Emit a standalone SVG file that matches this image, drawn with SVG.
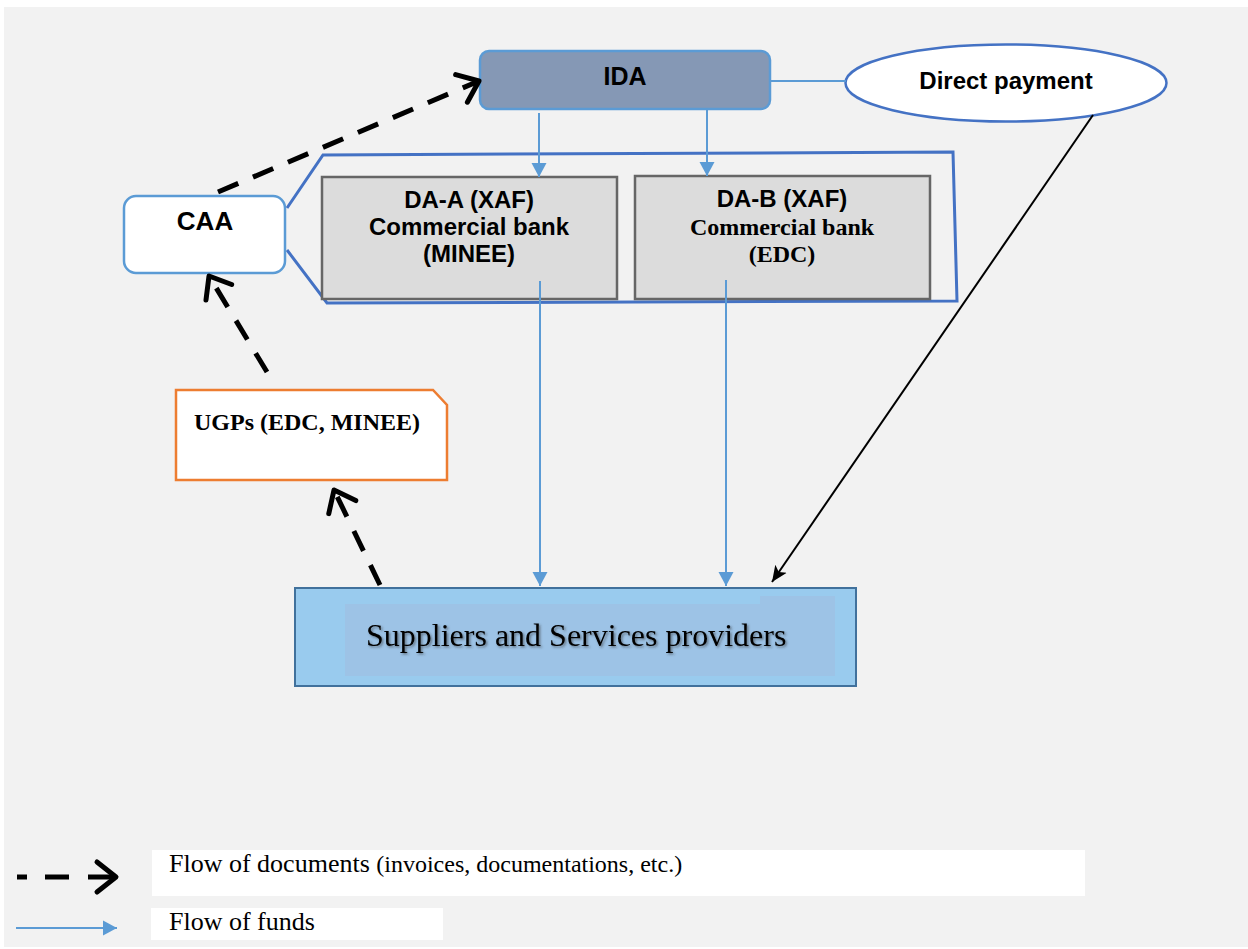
<svg xmlns="http://www.w3.org/2000/svg" width="1248" height="949" viewBox="0 0 1248 949">
<style>
.sans{font-family:"Liberation Sans",Arial,sans-serif;font-weight:bold;fill:#000}
.serif{font-family:"Liberation Serif","Times New Roman",serif;fill:#000}
.b{font-weight:bold}
.doc{fill:none;stroke:#000;stroke-width:5;stroke-dasharray:22 16}
.fund{fill:none;stroke:#5b9bd5;stroke-width:2}
.da{fill:#dcdcdc;stroke:#666;stroke-width:2.5}
</style>
<defs>
<marker id="chev" markerUnits="userSpaceOnUse" viewBox="-30 -20 40 40" markerWidth="40" markerHeight="40" refX="0" refY="0" orient="auto" overflow="visible">
<path d="M-19,-15 L0,0 L-19,15" fill="none" stroke="#000" stroke-width="5" stroke-linecap="round" stroke-linejoin="round"/>
</marker>
<marker id="blue" markerUnits="userSpaceOnUse" viewBox="-14 -8 14 16" markerWidth="14" markerHeight="16" refX="0" refY="0" orient="auto">
<path d="M-14,-7.5 L0,0 L-14,7.5 Z" fill="#5b9bd5"/>
</marker>
<marker id="black" markerUnits="userSpaceOnUse" viewBox="-16 -8 16 16" markerWidth="16" markerHeight="16" refX="0" refY="0" orient="auto">
<path d="M-16,-7 L0,0 L-16,7 L-12,0 Z" fill="#000"/>
</marker>
<filter id="shadow" x="-5%" y="-20%" width="110%" height="140%">
<feDropShadow dx="1.5" dy="1.5" stdDeviation="1" flood-color="#333" flood-opacity="0.55"/>
</filter>
</defs>

<rect x="4" y="7" width="1244" height="940" fill="#f2f2f2"/>

<g id="bracket">
<path d="M287,208 L323,155 L953,152 L957,301 L327,303 L287,250" fill="none" stroke="#4472c4" stroke-width="3"/>
</g>

<g id="ida">
<rect x="480" y="51" width="290" height="58" rx="9" fill="#8598b5" stroke="#5b9bd5" stroke-width="2.5"/>
<text class="sans" x="625" y="85" text-anchor="middle" font-size="25">IDA</text>
</g>

<g id="direct-payment">
<ellipse cx="1006" cy="83" rx="160.5" ry="38.5" fill="#fff" stroke="#4472c4" stroke-width="2.5"/>
<text class="sans" x="1006" y="89" text-anchor="middle" font-size="24">Direct payment</text>
</g>

<g id="caa">
<rect x="124" y="196" width="161" height="77" rx="12" fill="#fff" stroke="#5b9bd5" stroke-width="2.5"/>
<text class="sans" x="205" y="230" text-anchor="middle" font-size="26">CAA</text>
</g>

<g id="da-a">
<rect class="da" x="322" y="177" width="295" height="122"/>
<text class="sans" x="469" y="208" text-anchor="middle" font-size="24">DA-A (XAF)</text>
<text class="sans" x="469" y="235" text-anchor="middle" font-size="24">Commercial bank</text>
<text class="sans" x="469" y="262" text-anchor="middle" font-size="24">(MINEE)</text>
</g>

<g id="da-b">
<rect class="da" x="635" y="176" width="295" height="123"/>
<text class="sans" x="782" y="207" text-anchor="middle" font-size="24">DA-B (XAF)</text>
<text class="serif b" x="782" y="235" text-anchor="middle" font-size="24">Commercial bank</text>
<text class="serif b" x="782" y="262" text-anchor="middle" font-size="24">(EDC)</text>
</g>

<g id="ugps">
<path d="M176,390 L433,390 L447,405 L447,480 L176,480 Z" fill="#fff" stroke="#ed7d31" stroke-width="2.5"/>
<text class="serif b" x="194" y="430" font-size="24">UGPs (EDC, MINEE)</text>
</g>

<g id="suppliers">
<rect x="295" y="588" width="561" height="98" fill="#99cbee" stroke="#41719c" stroke-width="2"/>
<rect x="345" y="604" width="490" height="72" fill="#9dc3e6"/>
<rect x="760" y="596" width="75" height="10" fill="#9dc3e6"/>
<text class="serif" x="366" y="646" font-size="32" filter="url(#shadow)">Suppliers and Services providers</text>
</g>

<g id="connectors">
<line x1="770" y1="81" x2="846" y2="81" stroke="#5b9bd5" stroke-width="2"/>
<line class="fund" x1="539" y1="113" x2="539" y2="177" marker-end="url(#blue)"/>
<line class="fund" x1="707" y1="110" x2="707" y2="176" marker-end="url(#blue)"/>
<line class="fund" x1="540" y1="281" x2="540" y2="586" marker-end="url(#blue)"/>
<line class="fund" x1="726" y1="280" x2="726" y2="586" marker-end="url(#blue)"/>
<line x1="1093" y1="115" x2="772" y2="582" stroke="#000" stroke-width="2" marker-end="url(#black)"/>
<line class="doc" x1="218" y1="192" x2="479" y2="81" marker-end="url(#chev)"/>
<line class="doc" x1="267" y1="372" x2="209" y2="276" marker-end="url(#chev)"/>
<line class="doc" x1="380" y1="585" x2="334" y2="490" marker-end="url(#chev)"/>
</g>

<g id="legend">
<line x1="17" y1="877" x2="116" y2="877" stroke="#000" stroke-width="5" stroke-dasharray="10 18 24 100" marker-end="url(#chev)"/>
<line x1="88" y1="877" x2="116" y2="877" stroke="#000" stroke-width="5"/>
<rect x="152" y="850" width="933" height="46" fill="#fff"/>
<text class="serif" x="169" y="872" font-size="26"><tspan>Flow of documents </tspan><tspan font-size="24">(invoices, documentations, etc.)</tspan></text>
<line x1="16" y1="928" x2="117" y2="928" stroke="#5b9bd5" stroke-width="2" marker-end="url(#blue)"/>
<rect x="151" y="908" width="292" height="32" fill="#fff"/>
<text class="serif" x="169" y="930" font-size="26">Flow of funds</text>
</g>
</svg>
